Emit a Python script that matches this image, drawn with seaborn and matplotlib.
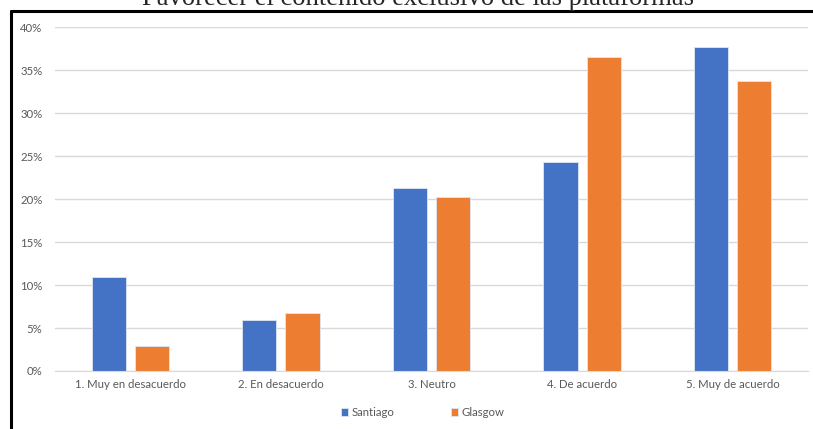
import numpy as np
import pandas as pd
import matplotlib
matplotlib.use("Agg")
import matplotlib.pyplot as plt
import seaborn as sns
from matplotlib.lines import Line2D
from matplotlib.ticker import PercentFormatter

categorias = ["1. Muy en desacuerdo", "2. En desacuerdo", "3. Neutro",
              "4. De acuerdo", "5. Muy de acuerdo"]
santiago = [0.109, 0.059, 0.213, 0.243, 0.377]
glasgow = [0.029, 0.067, 0.202, 0.365, 0.337]
ciudades = ["Santiago", "Glasgow"]
colores = ["#4472C4", "#ED7D31"]

df = pd.DataFrame({
    "categoria": categorias * 2,
    "valor": santiago + glasgow,
    "ciudad": [ciudades[0]] * len(categorias) + [ciudades[1]] * len(categorias),
})

sns.set_style("white")
plt.rcParams["font.family"] = ["Lato", "DejaVu Sans"]

fig = plt.figure(figsize=(8.13, 4.29), dpi=100)
ax = fig.add_axes([0.0677, 0.1352, 0.9261, 0.8018])

sns.barplot(data=df, x="categoria", y="valor", hue="ciudad", palette=colores,
            saturation=1, width=0.573, gap=0.21, edgecolor="#dde6f5",
            linewidth=0.6, ax=ax, legend=True)

ax.set_ylim(0, 0.4)
ax.set_xlim(-0.5, 4.5)
ax.yaxis.set_major_formatter(PercentFormatter(1.0, decimals=0))
ax.set_yticks(np.arange(0, 0.41, 0.05))
ax.grid(axis="y", color="#d9d9d9", linewidth=1)
ax.set_axisbelow(True)
for s in ["top", "right", "left"]:
    ax.spines[s].set_visible(False)
ax.spines["bottom"].set_color("#d9d9d9")
ax.tick_params(axis="both", length=0, colors="#595959", labelsize=8.2)
ax.tick_params(axis="x", pad=6)
ax.tick_params(axis="y", pad=9)
ax.set_xlabel("")
ax.set_ylabel("")

ax.legend(loc="upper center", bbox_to_anchor=(0.52, 0.075),
          bbox_transform=fig.transFigure, ncol=2, frameon=False,
          handlelength=0.6, handleheight=0.6, handletextpad=0.3,
          columnspacing=5.0, fontsize=8.2, labelcolor="#595959")

fig.text(0.514, 1 - 5 / 429, "Favorecer el contenido exclusivo de las plataformas",
         ha="center", va="baseline", fontsize=19.2, family="Liberation Serif")

# marco del gráfico
fig.add_artist(Line2D([10.5 / 813, 10.5 / 813], [0, 1 - 11 / 429],
                      color="black", linewidth=2.2, transform=fig.transFigure))
fig.add_artist(Line2D([10.5 / 813, 1], [1 - 11 / 429, 1 - 11 / 429],
                      color="black", linewidth=2.2, transform=fig.transFigure))

fig.savefig("out.png", dpi=100)
